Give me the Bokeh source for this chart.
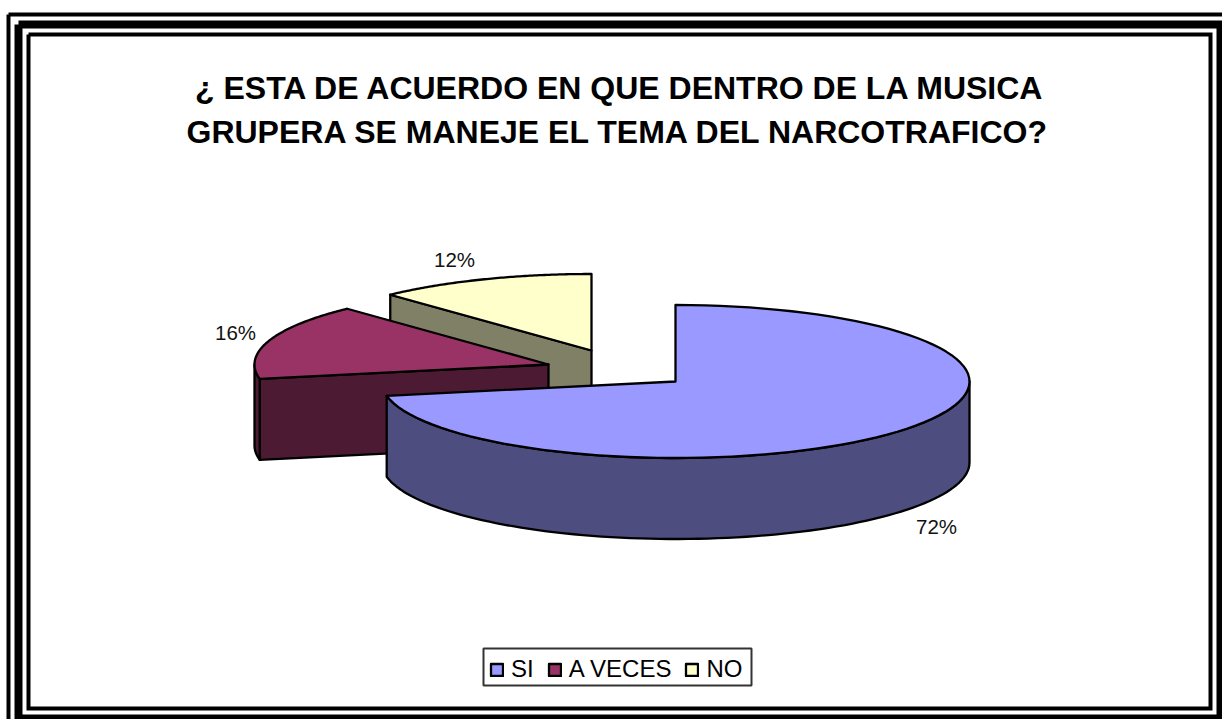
import numpy as np
from bokeh.plotting import figure
from bokeh.models import Range1d, Legend, LegendItem
from bokeh.core.properties import value
from bokeh.embed import file_html
from bokeh.resources import INLINE

title_lines = ["¿ ESTA DE ACUERDO EN QUE DENTRO DE LA MUSICA",
               "GRUPERA SE MANEJE EL TEMA DEL NARCOTRAFICO?"]
categories = ["SI", "A VECES", "NO"]
shares = [72, 16, 12]
top_colors = ["#9999FF", "#993366", "#FFFFCC"]
side_colors = ["#4D4D80", "#4D1A33", "#808066"]

W, H = 1222, 719
FONT = "Liberation Sans"
p = figure(width=W, height=H, x_range=Range1d(0, W), y_range=Range1d(H, 0),
           toolbar_location=None, output_backend="svg", min_border=0,
           outline_line_color=None, background_fill_color="white")
p.axis.visible = False
p.grid.visible = False

# triple frame
for (l, t, r, b, w) in [(8, 14, 1230, 730, 4), (18, 24, 1220, 718, 8), (28, 34, 1210, 708, 4)]:
    p.line([l, r, r, l, l], [t, t, b, b, t], line_color="black", line_width=w, line_join="miter")

# pie geometry
A, B, DEPTH = 294.0, 76.5, 81.0
apex = {"SI": (675, 381), "A VECES": (548, 364), "NO": (591, 350)}
edges = np.cumsum([0] + shares) / sum(shares) * 2 * np.pi
LW = 2.3


def rim(cx, cy, t0, t1, dy=0.0, n=90):
    t = np.linspace(t0, t1, n)
    return cx + A * np.sin(t), cy - B * np.cos(t) + dy


def poly(xs, ys, color):
    return p.patch(list(xs), list(ys), fill_color=color, line_color="black",
                   line_width=LW, line_join="round")


top_renderers = {}
for i in [2, 1, 0]:
    name = categories[i]
    cx, cy = apex[name]
    t0, t1 = edges[i], edges[i + 1]
    if name != "SI":
        sx = cx + A * np.sin(t0)
        sy = cy - B * np.cos(t0)
        poly([sx, cx, cx, sx], [sy, cy, cy + DEPTH, sy + DEPTH], side_colors[i])
    w0, w1 = max(t0, np.pi / 2), min(t1, 3 * np.pi / 2)
    if w1 > w0:
        xa, ya = rim(cx, cy, w0, w1)
        xb, yb = rim(cx, cy, w1, w0, DEPTH)
        poly(np.r_[xa, xb], np.r_[ya, yb], side_colors[i])
    xt, yt = rim(cx, cy, t0, t1)
    top_renderers[name] = poly(np.r_[cx, xt], np.r_[cy, yt], top_colors[i])

label_x = [936, 235, 454]
label_y = [526, 332, 259]
p.text(label_x, label_y, text=[f"{s}%" for s in shares], text_font=value(FONT),
       text_font_size="20.5px", text_color="#111111", text_align="center", text_baseline="middle")

p.text([620, 618], [87, 131], text=title_lines, text_font=value(FONT), text_font_style="bold",
       text_font_size="32px", text_color="black", text_align="center", text_baseline="middle")

# legend frame under a borderless legend
p.quad(left=[483], right=[751], top=[648], bottom=[685], fill_color="white",
       line_color="#333333", line_width=2)
legend = Legend(items=[LegendItem(label=c, renderers=[top_renderers[c]]) for c in categories],
                orientation="horizontal", location=(489, H - 683), glyph_width=15, glyph_height=15,
                label_standoff=7, spacing=13, padding=3, margin=0,
                label_text_font=FONT, label_text_font_size="24px", label_text_color="black",
                label_height=22, border_line_color=None,
                background_fill_color="white", background_fill_alpha=0.0)
p.add_layout(legend, "center")

open("out.html", "w").write(file_html(p, INLINE))
